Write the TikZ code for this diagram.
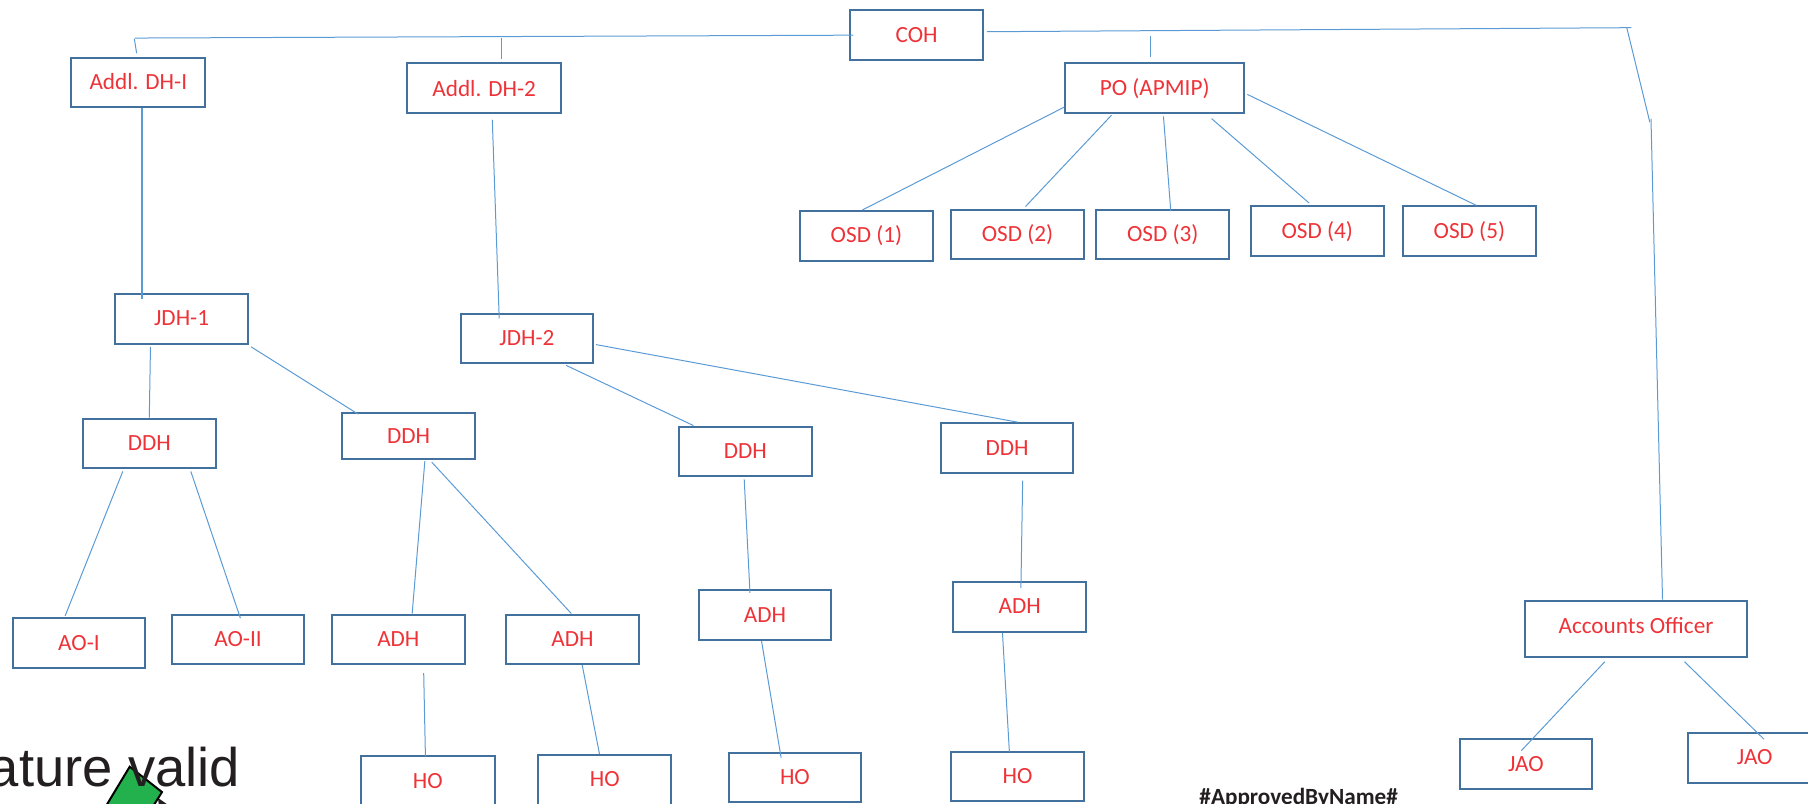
\documentclass[tikz,border=0pt]{standalone}
\usepackage{fontspec}
\setmainfont{Carlito}
\newfontfamily\helv{Liberation Sans}
\definecolor{boxblue}{HTML}{41719C}
\definecolor{linkblue}{HTML}{5B9BD5}
\definecolor{labelred}{HTML}{EE3338}
\definecolor{signblack}{HTML}{231F20}
\definecolor{signgreen}{HTML}{22B14C}
\tikzset{
  orgbox/.style={draw=boxblue,line width=1pt,text=labelred,inner sep=0pt,font=\fontsize{11.6pt}{13pt}\selectfont},
  link/.style={draw=linkblue,line width=0.5pt},
  thicklink/.style={draw=linkblue,line width=0.85pt},
}
% name, x1, y1, x2, y2, raise, text
\newcommand{\orgnode}[7]{%
  \pgfmathsetmacro{\bw}{(#4-#2)*0.5765}%
  \pgfmathsetmacro{\bh}{(#5-#3)*0.5765}%
  \node[orgbox,minimum width=\bw pt,minimum height=\bh pt] (#1) at ({(#2+#4)/2},{(#3+#5)/2}) {\raisebox{#6pt}{#7}};%
}
\begin{document}
\begin{tikzpicture}[x=0.5765pt,y=-0.5765pt]
\useasboundingbox (0,0) rectangle (1568.2,697.3);
\orgnode{coh}{737}{9}{853}{52}{0}{COH}
\orgnode{dh1}{62}{50}{178}{93}{0.5}{Addl. DH-I}
\orgnode{dh2}{353}{55}{487}{98}{0}{Addl. DH-2}
\orgnode{po}{924}{55}{1079}{98}{0}{PO (APMIP)}
\orgnode{osda}{694}{183}{809}{226}{0}{OSD (1)}
\orgnode{osdb}{825}{182}{940}{225}{0}{OSD (2)}
\orgnode{osdc}{951}{182}{1066}{225}{0}{OSD (3)}
\orgnode{osdd}{1085}{179}{1200}{222}{1}{OSD (4)}
\orgnode{osde}{1217}{179}{1332}{222}{0}{OSD (5)}
\orgnode{jdha}{100}{255}{215}{298}{0.5}{JDH-1}
\orgnode{jdhb}{400}{272}{514}{315}{0.5}{JDH-2}
\orgnode{ddha}{72}{363}{187}{406}{0}{DDH}
\orgnode{ddhb}{297}{358}{412}{398}{0}{DDH}
\orgnode{ddhc}{589}{370}{704}{413}{0}{DDH}
\orgnode{ddhd}{816}{367}{931}{410}{0}{DDH}
\orgnode{aoa}{11}{536}{126}{579}{0}{AO-I}
\orgnode{aob}{149}{533}{264}{576}{0}{AO-II}
\orgnode{adha}{288}{533}{403}{576}{0.5}{ADH}
\orgnode{adhb}{439}{533}{554}{576}{0.5}{ADH}
\orgnode{adhc}{606}{512}{721}{555}{0.5}{ADH}
\orgnode{adhd}{827}{505}{942}{548}{0.5}{ADH}
\orgnode{acc}{1323}{521}{1515}{570}{3}{Accounts Officer}
\orgnode{jaoa}{1266}{641}{1381}{684}{0}{JAO}
\orgnode{jaob}{1464}{636}{1580}{679}{1}{JAO}
\orgnode{hoa}{313}{656}{429}{699}{0.5}{HO}
\orgnode{hob}{467}{655}{582}{698}{0.5}{HO}
\orgnode{hoc}{632}{653}{747}{696}{0.5}{HO}
\orgnode{hod}{825}{652}{940}{695}{0.5}{HO}
% top rail
\coordinate (railL) at (117,33);
\coordinate (railR) at (1415,24);
\coordinate (kink) at (1431,106);
\coordinate (kinktop) at (1411,24);
\coordinate (kinkfoot) at (1432,103);
\coordinate (dhltop) at (116.5,33.5);
\draw[link] ([shift={(4,0)}]coh.west) -- (railL);
\draw[link] (dhltop) -- ([shift={(-1.5,-3)}]dh1.north);
\draw[link] ([shift={(2,-3)}]coh.east) -- (railR);
\draw[link] (kinktop) -- (kink);
\draw[link] (kinkfoot) -- ([shift={(23,0)}]acc.north);
\coordinate (dhbtop) at (435,33);
\coordinate (potop) at (998,31);
\draw[thicklink] (dhbtop) -- ([shift={(15,-3)}]dh2.north);
\draw[thicklink] (potop) -- ([shift={(-3.5,-5)}]po.north);
\draw[thicklink] ([shift={(3,0)}]dh1.south) -- ([shift={(-34.5,5)}]jdha.north);
\draw[link] ([shift={(7,5)}]dh2.south) -- ([shift={(-24,5)}]jdhb.north);
\draw[link] ([shift={(0,-6)}]po.south west) -- ([shift={(-3.5,0)}]osda.north);
\draw[link] ([shift={(41,1)}]po.south west) -- ([shift={(7,-2)}]osdb.north);
\draw[link] ([shift={(86,2)}]po.south west) -- ([shift={(7,2)}]osdc.north);
\draw[link] ([shift={(-29,4)}]po.south east) -- ([shift={(-7,-2)}]osdd.north);
\draw[link] ([shift={(2,-17)}]po.south east) -- ([shift={(6,0)}]osde.north);
\draw[link] ([shift={(-27,2)}]jdha.south) -- ([shift={(0,0)}]ddha.north);
\draw[link] ([shift={(2,2)}]jdha.south east) -- ([shift={(-44,2)}]ddhb.north);
\draw[link] ([shift={(34,1)}]jdhb.south) -- ([shift={(-45,0)}]ddhc.north);
\draw[link] ([shift={(2,-17)}]jdhb.south east) -- ([shift={(9,0)}]ddhd.north);
\draw[link] ([shift={(-23,2)}]ddha.south) -- ([shift={(-12,-1)}]aoa.north);
\draw[link] ([shift={(36,2)}]ddha.south) -- ([shift={(2,4)}]aob.north);
\draw[link] ([shift={(14,1)}]ddhb.south) -- ([shift={(12,0)}]adha.north);
\draw[link] ([shift={(20,2)}]ddhb.south) -- ([shift={(-1,0)}]adhb.north);
\draw[link] ([shift={(-1,2)}]ddhc.south) -- ([shift={(-13,3)}]adhc.north);
\draw[link] ([shift={(13.5,6)}]ddhd.south) -- ([shift={(1,6)}]adhd.north);
\draw[link] ([shift={(22,7)}]adha.south) -- ([shift={(-2,1)}]hoa.north);
\draw[link] ([shift={(8.5,0)}]adhb.south) -- ([shift={(-4.5,0)}]hob.north);
\draw[link] ([shift={(-3,0)}]adhc.south) -- ([shift={(-12,5)}]hoc.north);
\draw[link] ([shift={(-15,0)}]adhd.south) -- ([shift={(-7,1)}]hod.north);
\draw[link] ([shift={(-27,3)}]acc.south) -- ([shift={(-4,11)}]jaoa.north);
\draw[link] ([shift={(42,3)}]acc.south) -- ([shift={(8,6)}]jaob.north);
% signature remnants
\fill[signblack] (137,692) -- (145.5,698) -- (138,700) -- cycle;
\filldraw[draw=black,fill=signgreen,line width=1pt] (112.5,665) -- (140.5,687) -- (133,699) -- (92,699) -- cycle;
\node[anchor=base east,inner sep=0pt,text=signblack,font=\helv\fontsize{27.2pt}{30pt}\selectfont] (sig) at (208.5,682) {Signature valid};
\node[anchor=base west,inner sep=0pt,text=signblack,font=\bfseries\fontsize{11.6pt}{13pt}\selectfont] (appr) at (1040,698) {\#ApprovedByName\#};
\end{tikzpicture}
\end{document}
